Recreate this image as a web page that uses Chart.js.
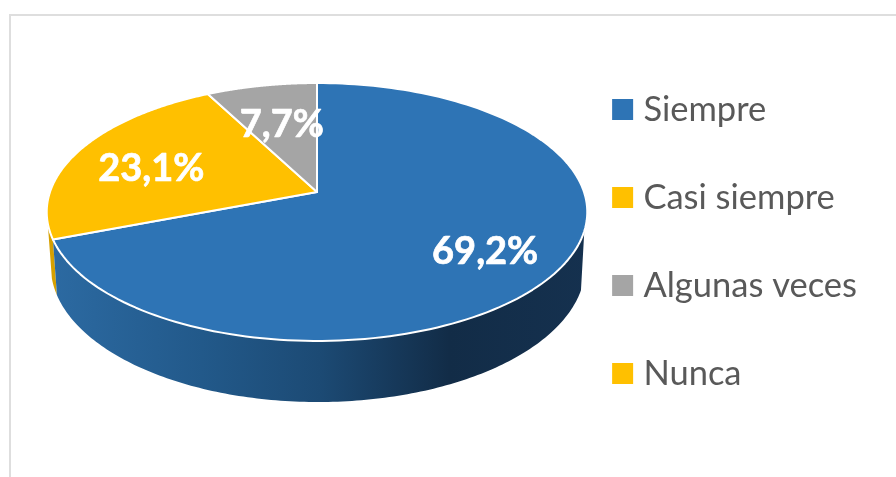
<!DOCTYPE html>
<html>
<head>
<meta charset="utf-8">
<script src="https://cdn.jsdelivr.net/npm/chart.js@4/dist/chart.umd.min.js"></script>
<style>
html,body{margin:0;padding:0;background:#fff;overflow:hidden}
#wrap{position:relative;width:896px;height:477px}
#frame{position:absolute;left:9px;top:14px;width:887px;height:463px;border-left:2px solid #dedede;border-top:2px solid #dedede;box-sizing:border-box}
canvas{position:absolute;left:0;top:0;display:block}
</style>
</head>
<body>
<div id="wrap"><div id="frame"></div><canvas id="c" width="896" height="477"></canvas></div>
<script>
const categories = ['Siempre', 'Casi siempre', 'Algunas veces', 'Nunca'];
const percentages = [69.2, 23.1, 7.7, 0];
const valueLabels = ['69,2%', '23,1%', '7,7%', ''];
const sliceColors = ['#2E74B5', '#FFC000', '#A5A5A5', '#FFC000'];

// Projection of the flat pie circle onto the tilted view
const topFace = {cx: 317, R: 267, a: 96.1, b: 192};
const lowFace = {cx: 318, R: 264, a: 94.7, b: 245};
const persp = -0.155;
const labelPlace = [{f: 0.735, shift: 2.5}, {f: 0.667, shift: -4}, {f: 0.6, shift: 0}];

function project(face, angle, f) {
  const u = Math.cos(angle) * f, v = Math.sin(angle) * f, w = 1 + persp * v;
  return {x: face.cx + face.R * u / w, y: (face.a * v + face.b) / w};
}
function trace(ctx, face, from, to, first) {
  const n = 160;
  for (let i = 0; i <= n; i++) {
    const p = project(face, from + (to - from) * i / n, 1);
    if (i === 0 && first) ctx.moveTo(p.x, p.y); else ctx.lineTo(p.x, p.y);
  }
}
function wall(ctx, topFrom, lowFrom, to, fill) {
  ctx.beginPath();
  trace(ctx, topFace, topFrom, to, true);
  trace(ctx, lowFace, to, lowFrom, false);
  ctx.closePath();
  ctx.fillStyle = fill;
  ctx.fill();
}

const pie3d = {
  id: 'pie3d',
  beforeDatasetsDraw(chart) {
    const ctx = chart.ctx;
    const arcs = chart.getDatasetMeta(0).data;
    const blue = arcs[0], yellow = arcs[1];
    ctx.save();
    // side walls
    const g = ctx.createLinearGradient(50, 0, 590, 0);
    g.addColorStop(0, '#2C6AA2');
    g.addColorStop(0.28, '#22598A');
    g.addColorStop(0.5, '#1C4A74');
    g.addColorStop(0.74, '#122C47');
    g.addColorStop(1, '#15314F');
    wall(ctx, yellow.startAngle + 0.22, yellow.startAngle + 0.12, yellow.startAngle, '#D6A000');
    wall(ctx, 0.3, 0.33, blue.endAngle, g);
    // top faces
    arcs.forEach((arc) => {
      if (arc.endAngle - arc.startAngle <= 0) return;
      ctx.beginPath();
      const c = project(topFace, 0, 0);
      ctx.moveTo(c.x, c.y);
      trace(ctx, topFace, arc.startAngle, arc.endAngle, false);
      ctx.closePath();
      ctx.fillStyle = arc.options.backgroundColor;
      ctx.fill();
      ctx.lineWidth = 2;
      ctx.strokeStyle = '#fff';
      ctx.lineJoin = 'round';
      ctx.stroke();
    });
    // value labels
    ctx.font = 'bold 38px Lato';
    ctx.fillStyle = '#fff';
    ctx.strokeStyle = '#fff';
    ctx.lineWidth = 0.7;
    ctx.textAlign = 'center';
    ctx.textBaseline = 'middle';
    labelPlace.forEach((lp, i) => {
      const mid = (arcs[i].startAngle + arcs[i].endAngle) / 2 + lp.shift * Math.PI / 180;
      const p = project(topFace, mid, lp.f);
      ctx.fillText(valueLabels[i], p.x, p.y);
      ctx.strokeText(valueLabels[i], p.x, p.y);
    });
    ctx.restore();
    return false;
  }
};

new Chart(document.getElementById('c'), {
  type: 'pie',
  data: {
    labels: categories,
    datasets: [{data: percentages, backgroundColor: sliceColors, borderWidth: 0}]
  },
  plugins: [pie3d],
  options: {
    responsive: false,
    animation: false,
    events: [],
    layout: {padding: {right: 29, top: 6}},
    plugins: {
      tooltip: {enabled: false},
      legend: {
        position: 'right',
        labels: {
          usePointStyle: true,
          pointStyle: 'rect',
          boxWidth: 7,
          boxHeight: 21,
          padding: 53.5,
          color: '#595959',
          font: {family: 'Lato', size: 34.5}
        }
      }
    }
  }
});
</script>
</body>
</html>
